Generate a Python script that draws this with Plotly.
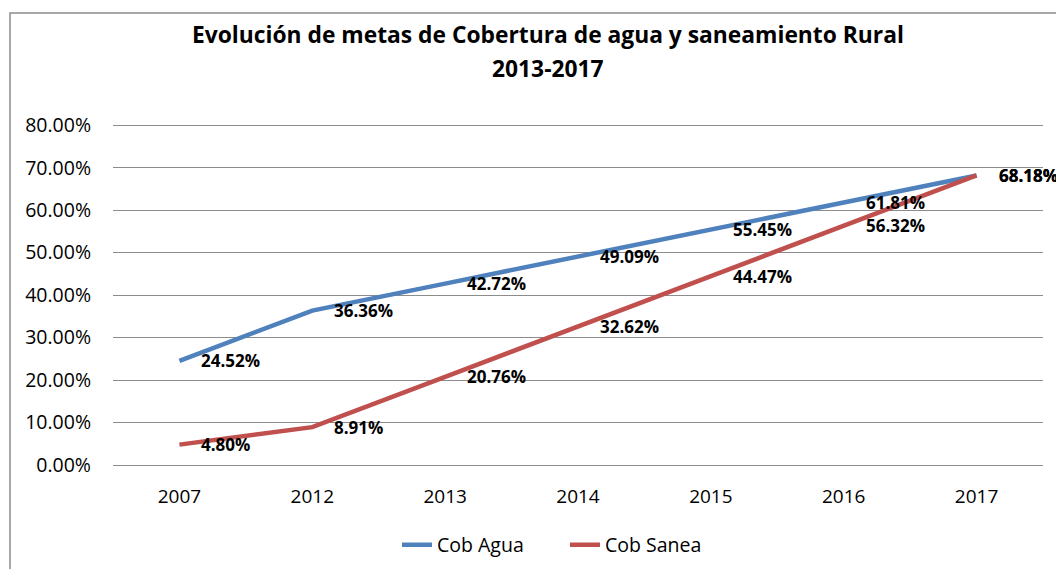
import plotly.graph_objects as go

years = ["2007", "2012", "2013", "2014", "2015", "2016", "2017"]
cob_agua = [24.52, 36.36, 42.72, 49.09, 55.45, 61.81, 68.18]
cob_sanea = [4.80, 8.91, 20.76, 32.62, 44.47, 56.32, 68.18]
y_ticks = [0, 10, 20, 30, 40, 50, 60, 70, 80]

FONT = "Open Sans"
BLUE = "#4F81BD"
RED = "#C0504D"

# plot area geometry (pixels)
L, R, T, B = 113, 1043, 124, 465
PW, PH = R - L, B - T
YMAX = 0.803


def py2paper(py):
    return (B - py) / PH


def px2paper(px):
    return (px - L) / PW


fig = go.Figure()
fig.add_trace(go.Scatter(x=years, y=[v / 100 for v in cob_agua], mode="lines",
                         name="Cob Agua", line=dict(color=BLUE, width=4.5)))
fig.add_trace(go.Scatter(x=years, y=[v / 100 for v in cob_sanea], mode="lines",
                         name="Cob Sanea", line=dict(color=RED, width=4.5)))

annotations = []
for series in (cob_agua, cob_sanea):
    for i, v in enumerate(series):
        annotations.append(dict(x=i, y=v / 100, xref="x", yref="y", text=f"<b>{v:.2f}%</b>",
                                showarrow=False, xanchor="left", yanchor="middle", xshift=20,
                                font=dict(family=FONT, size=17, color="black")))

# titles
annotations.append(dict(x=px2paper(548), y=py2paper(34), xref="paper", yref="paper",
                        text="<b>Evolución de metas de Cobertura de agua y saneamiento Rural</b>",
                        showarrow=False, xanchor="center", yanchor="middle",
                        font=dict(family=FONT, size=22.8, color="black")))
annotations.append(dict(x=px2paper(548), y=py2paper(69), xref="paper", yref="paper",
                        text="<b>2013-2017</b>", showarrow=False, xanchor="center", yanchor="middle",
                        font=dict(family=FONT, size=22.8, color="black")))

fig.update_layout(
    width=1056, height=569,
    margin=dict(l=L, r=1056 - R, t=T, b=569 - B, autoexpand=False),
    paper_bgcolor="white", plot_bgcolor="white",
    showlegend=True,
    legend=dict(orientation="h", x=px2paper(397), xanchor="left", y=py2paper(545), yanchor="middle",
                font=dict(family=FONT, size=19.5, color="black"), entrywidth=123,
                entrywidthmode="pixels"),
    annotations=annotations,
    shapes=[dict(type="rect", xref="paper", yref="paper",
                 x0=px2paper(10), x1=px2paper(1070),
                 y0=py2paper(590), y1=py2paper(13),
                 line=dict(color="#8c8c8c", width=1.5), fillcolor="rgba(0,0,0,0)", layer="below")],
)
fig.update_xaxes(type="category", range=[-0.5, 6.5], showgrid=False, showline=True,
                 linecolor="#8c8c8c", linewidth=1, ticks="", ticklabelstandoff=14,
                 automargin=False,
                 tickfont=dict(family=FONT, size=19, color="black"), zeroline=False)
fig.update_yaxes(range=[0, YMAX], tickvals=[t / 100 for t in y_ticks],
                 ticktext=[f"{t:.2f}%" for t in y_ticks], showgrid=True,
                 gridcolor="#8c8c8c", gridwidth=1, zeroline=False, showline=False,
                 ticks="", ticklabelstandoff=21, automargin=False,
                 tickfont=dict(family=FONT, size=19.5, color="black"))

fig.write_html("out.html", config={"displayModeBar": False},
               post_script="document.body.style.margin='0';document.body.style.overflow='hidden';")
